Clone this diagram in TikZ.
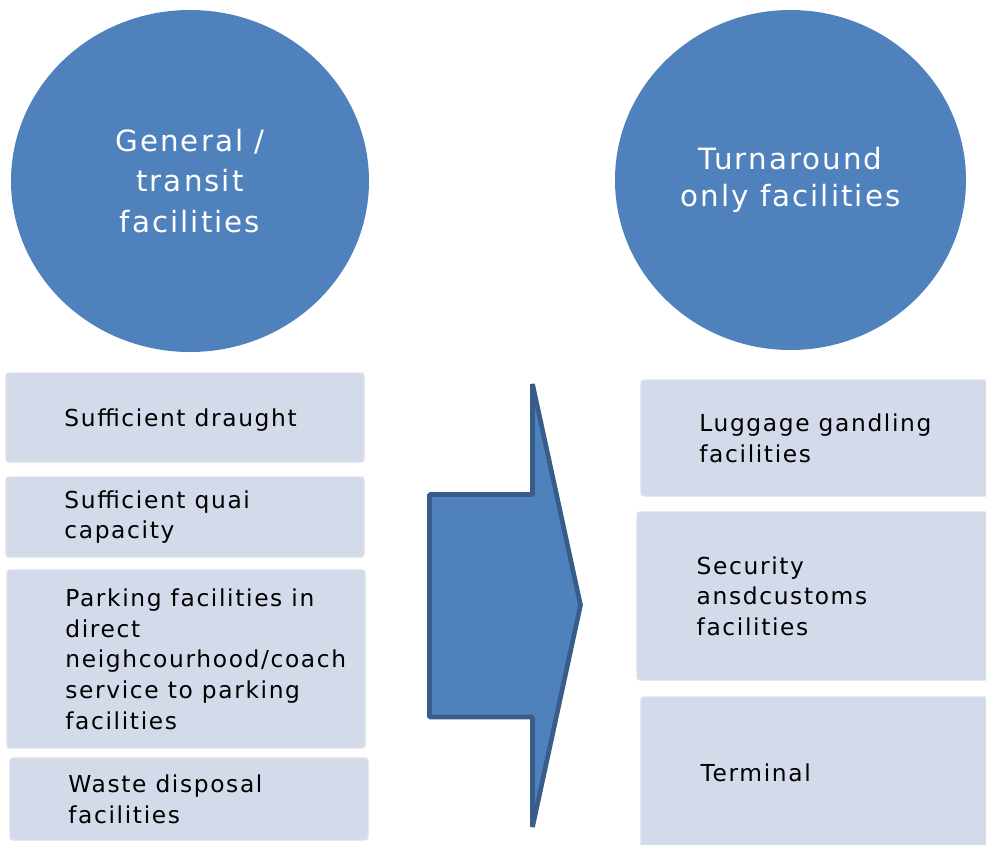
\documentclass[tikz,border=0pt]{standalone}
\usepackage{fontspec}
\setmainfont{DejaVu Sans}[LetterSpace=7]
\usetikzlibrary{shapes, positioning}
\definecolor{circblue}{HTML}{4F81BD}
\definecolor{arrline}{HTML}{385D8A}
\definecolor{boxfill}{HTML}{D3DAE9}
\definecolor{boxline}{HTML}{DCE1EC}

\begin{document}
\begin{tikzpicture}[x=0.75pt, y=-0.75pt,
		blob/.style={ellipse, fill=circblue, text=white, align=center},
		box/.style={rectangle, rounded corners=2pt, fill=boxfill, draw=boxline, line width=0.8pt, minimum width=268.5pt},
		txt/.style={inner sep=0pt, align=left, font=\fontsize{17.5}{23}\selectfont}]
			\useasboundingbox (0,0) rectangle (986,844);

			\node (genc)[blob, minimum width=268.5pt, minimum height=256.5pt, font=\fontsize{22}{30.4}\selectfont] at (190, 181) {General /\\ transit\\ facilities};
			\node (turnc)[blob, minimum width=263.25pt, minimum height=255pt, font=\fontsize{22}{27.5}\selectfont] at (790.5, 180) {Turnaround\\ only facilities};

			\node (suff)[box, minimum height=66.75pt] at (185, 417.5) {};
			\node (quai)[box, minimum height=60pt] at (185, 517) {};
			\node (park)[box, minimum height=133.5pt] at (186, 659) {};
			\node (waste)[box, minimum height=61.5pt] at (189, 799) {};

			\node (lugg)[box, minimum width=269.25pt, minimum height=87pt] at (820.5, 438) {};
			\node (secu)[box, minimum width=269.25pt, minimum height=126pt] at (816.5, 596) {};
			\node (term)[box, minimum width=269.25pt, minimum height=113.25pt] at (820.5, 772.5) {};

			\node (sufftxt)[txt, right=44pt of suff.west, yshift=-2pt] {Sufficient draught};
			\node (quaitxt)[txt, right=44pt of quai.west] {Sufficient quai\\ capacity};
			\node (parktxt)[txt, right=44pt of park.west] {Parking facilities in\\ direct\\ neighcourhood/coach\\ service to parking\\ facilities};
			\node (wastetxt)[txt, right=44pt of waste.west] {Waste disposal\\ facilities};

			\node (luggtxt)[txt, right=44pt of lugg.west] {Luggage gandling\\ facilities};
			\node (secutxt)[txt, right=45pt of secu.west] {Security\\ ansdcustoms\\ facilities};
			\node (termtxt)[txt, right=45pt of term.west] {Terminal};

			% big arrow between the two columns
			\draw[fill=circblue, draw=arrline, line width=3.5pt, line join=bevel]
				(429.5, 494.5) -- (532.5, 494.5) -- (532.5, 384) -- (580.5, 605)
				-- (532.5, 827) -- (532.5, 717) -- (429.5, 717) -- cycle;
		\end{tikzpicture}
\end{document}
